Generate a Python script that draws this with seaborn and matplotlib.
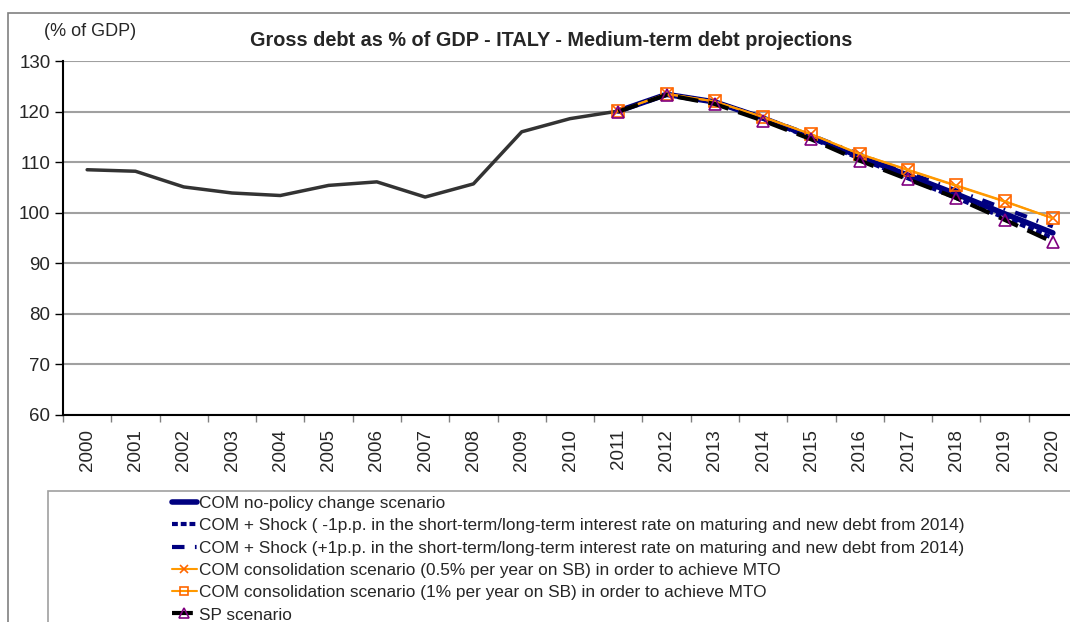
import matplotlib
matplotlib.use("Agg")
import matplotlib.pyplot as plt
from matplotlib.patches import Rectangle
from matplotlib.lines import Line2D
import seaborn as sns
import pandas as pd
import numpy as np

years = list(range(2000, 2021))
hist_years = list(range(2000, 2012))
hist_vals = [108.5, 108.2, 105.1, 103.9, 103.4, 105.4, 106.1, 103.1, 105.7, 116.0, 118.6, 120.1]

proj_years = list(range(2011, 2021))
no_policy = [120.1, 123.4, 121.9, 118.7, 115.0, 111.1, 107.4, 103.7, 99.8, 96.0]
shock_minus = [120.1, 123.4, 121.9, 118.6, 114.7, 110.7, 106.8, 102.9, 99.0, 95.0]
shock_plus = [120.1, 123.4, 121.9, 118.8, 115.3, 111.5, 107.9, 104.4, 100.8, 97.3]
cons_05 = [120.1, 123.5, 122.0, 118.9, 115.5, 111.6, 108.4, 105.3, 102.2, 98.9]
cons_1 = [120.1, 123.5, 122.0, 118.9, 115.5, 111.6, 108.5, 105.4, 102.3, 98.9]
sp = [120.0, 123.3, 121.5, 118.2, 114.5, 110.3, 106.6, 102.9, 98.6, 94.2]

labels = [
    "COM no-policy change scenario",
    "COM + Shock ( -1p.p. in the short-term/long-term interest rate on maturing and new debt from 2014)",
    "COM + Shock (+1p.p. in the short-term/long-term interest rate on maturing and new debt from 2014)",
    "COM consolidation scenario (0.5% per year on SB) in order to achieve MTO",
    "COM consolidation scenario (1% per year on SB) in order to achieve MTO",
    "SP scenario",
]

sns.set_theme(style="white")
plt.rcParams['font.family'] = ['Liberation Sans', 'DejaVu Sans']

fig = plt.figure(figsize=(10.70, 6.22), dpi=100)
ax = fig.add_axes([63/1070, 1-415/622, (1077-63)/1070, (415-61)/622])

def xi(yrs):
    return [y - 2000 for y in yrs]

navy = "#000080"
orange = "#FF9900"
orange_m = "#FF6600"
purple = "#800080"

sns.lineplot(x=xi(hist_years), y=hist_vals, ax=ax, color="#333333", lw=2.5, legend=False)

styles = [
    dict(color=navy, lw=4.0, ls="-"),
    dict(color=navy, lw=3.0, ls=(0, (1.4, 0.7))),
    dict(color=navy, lw=3.0, ls=(0, (3, 2.5, 0.4, 2.5))),
    dict(color=orange, lw=1.5, ls="-", marker="x", ms=8, mec=orange_m, mew=1.2),
    dict(color=orange, lw=1.5, ls="-", marker="s", ms=8, mec=orange_m, mfc="none", mew=1.2),
    dict(color="black", lw=3.0, ls=(0, (5, 2.5)), marker="^", ms=9, mec=purple, mfc="none", mew=1.2),
]
series = [no_policy, shock_minus, shock_plus, cons_05, cons_1, sp]
for vals, st in zip(series, styles):
    kw = dict(st)
    sns.lineplot(x=xi(proj_years), y=vals, ax=ax, legend=False, **kw)

ax.set_xlim(-0.5, 20.5)
ax.set_ylim(60, 130)
ax.set_yticks(range(60, 131, 10))
ax.set_yticklabels([str(v) for v in range(60, 131, 10)], fontsize=13.5)
ax.set_xticks(range(len(years)))
ax.set_xticklabels([str(y) for y in years], rotation=90, fontsize=13.5)
ax.set_xticks(np.arange(-0.5, 20.6, 1), minor=True)
ax.tick_params(axis="x", which="major", length=0, pad=10)
ax.tick_params(axis="x", which="minor", length=5, color="#808080", width=1, bottom=True)
ax.tick_params(axis="y", which="major", length=6, color="black", width=1, left=True, pad=3)
ax.yaxis.grid(True, color="#a0a0a0", lw=1.5)
ax.xaxis.grid(False)
ax.set_axisbelow(True)
for s in ["top", "right"]:
    ax.spines[s].set_visible(False)
ax.spines["left"].set_color("black")
ax.spines["left"].set_linewidth(1.5)
ax.spines["bottom"].set_color("black")
ax.spines["bottom"].set_linewidth(1.5)
ax.set_xlabel("")
ax.set_ylabel("")

fig.text(551/1070, 1-40/622, "Gross debt as % of GDP - ITALY - Medium-term debt projections",
         ha="center", va="center", fontsize=14.3, fontweight="bold")
fig.text(44/1070, 1-31/622, "(% of GDP)", ha="left", va="center", fontsize=13)

# outer border and legend border
fig.patches.append(Rectangle((8/1070, -0.1), 1.2, (622-13)/622 + 0.1, transform=fig.transFigure,
                             fill=False, edgecolor="#808080", lw=1.2))
fig.patches.append(Rectangle((48/1070, -0.1), 1.2, (622-491)/622 + 0.1, transform=fig.transFigure,
                             fill=False, edgecolor="#a0a0a0", lw=1.2))

handles = []
for st in styles:
    kw = dict(st)
    handles.append(Line2D([], [], **kw))
leg = fig.legend(handles, labels, loc="upper left", bbox_to_anchor=(172/1070, 1-496/622),
                 frameon=False, fontsize=12.4, handlelength=1.45, handletextpad=0.1,
                 labelspacing=0.42, borderpad=0, borderaxespad=0, markerscale=0.8)

fig.savefig("out.png", dpi=100)
